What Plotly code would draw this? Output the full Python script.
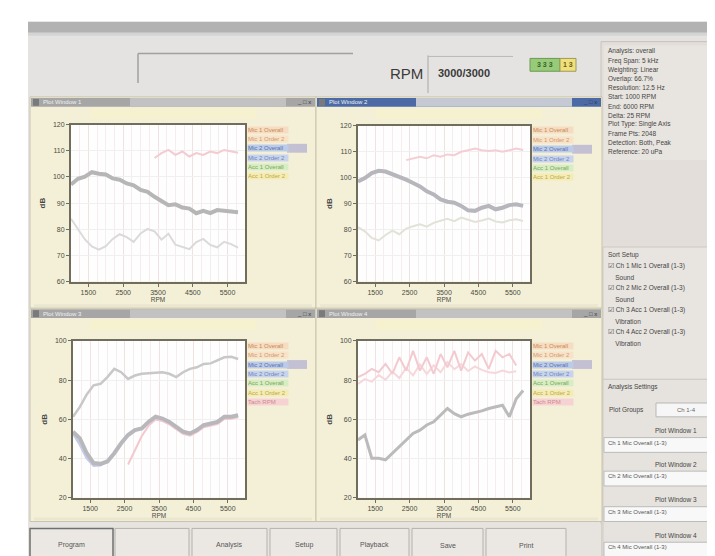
import plotly.graph_objects as go

# ---------------- data ----------------
rpm = [1000, 1200, 1400, 1600, 1800, 2000, 2200, 2400, 2600, 2800, 3000, 3200, 3400,
       3600, 3800, 4000, 4200, 4400, 4600, 4800, 5000, 5200, 5400, 5600, 5800]

p1_main = [97.1, 99.3, 100.1, 101.8, 101.2, 100.9, 99.4, 98.9, 97.5, 96.8, 95.0, 94.3, 92.4,
           91.0, 89.2, 89.5, 88.3, 87.9, 86.1, 87.0, 86.2, 87.3, 87.1, 86.8, 86.5]
p1_pink = [None, None, None, None, None, None, None, None, None, None, None, None, 107.2,
           109.1, 110.3, 108.4, 109.7, 107.8, 109.1, 108.4, 109.7, 109.1, 110.3, 109.7, 109.2]
p1_faint = [84.0, 80.2, 76.1, 73.4, 72.2, 73.5, 76.3, 78.1, 77.0, 75.2, 78.4, 80.1, 79.2,
            76.0, 78.3, 74.1, 73.2, 72.4, 75.1, 76.3, 74.0, 73.1, 75.2, 74.3, 73.0]

p2_main = [98.5, 99.8, 101.7, 102.6, 102.3, 101.3, 100.4, 99.2, 97.9, 96.6, 94.7, 93.5, 91.6,
           90.7, 90.3, 89.1, 87.4, 87.2, 88.4, 89.1, 87.8, 88.4, 89.4, 89.7, 89.1]
p2_pink = [None, None, None, None, None, None, None, 106.7, 107.4, 108.0, 107.4, 108.6, 108.0,
           108.9, 108.6, 109.9, 110.5, 111.2, 110.5, 110.2, 110.5, 109.9, 110.5, 111.2, 110.6]
p2_faint = [80.9, 79.3, 76.8, 75.8, 77.9, 79.6, 78.2, 80.4, 81.3, 82.0, 81.1, 82.6, 83.4,
            84.1, 83.2, 84.6, 83.8, 82.9, 83.5, 84.2, 83.1, 82.7, 83.6, 84.0, 83.3]

p3_upper = [61.3, 66.3, 72.7, 77.3, 78.1, 81.5, 85.7, 84.0, 80.6, 82.3, 83.2, 83.5, 84.0,
            84.0, 83.2, 81.5, 84.0, 85.7, 86.5, 88.2, 88.5, 89.9, 91.6, 91.9, 90.7]
p3_lower = [53.7, 50.3, 42.7, 37.7, 37.3, 38.5, 42.7, 47.8, 52.0, 54.5, 55.4, 58.7, 61.3,
            60.4, 58.7, 56.2, 53.7, 52.8, 54.5, 57.1, 57.9, 58.7, 61.3, 61.3, 62.1]
p3_pink = [None, None, None, None, None, None, None, None, 37.0, 44.2, 51.5, 56.8, 59.9,
           59.1, 57.5, 55.0, 52.6, 51.7, 53.4, 56.0, 56.8, 57.6, 60.2, 60.3, 61.0]
p3_blue = [52.8, 47.1, 40.2, 36.4, 36.6, 38.9, None, None, None, None, None, None, None,
           None, None, None, None, None, None, None, None, None, None, None, None]

p4_main = [49.5, 52.0, 40.2, 40.2, 39.4, 42.7, 46.1, 49.5, 52.8, 54.5, 57.1, 58.7, 62.1,
           65.5, 62.9, 61.3, 62.6, 63.3, 64.3, 65.5, 66.3, 67.2, 61.3, 70.5, 74.7]
p4_pink = [81.5, 83.2, 85.7, 84.0, 88.2, 83.2, 91.6, 84.8, 94.9, 84.8, 91.6, 83.2, 93.3,
           86.5, 94.9, 84.8, 94.1, 89.9, 93.3, 85.7, 94.9, 91.6, 93.3, 87.4, None]
p4_pink2 = [78.0, 80.5, 79.2, 82.6, 80.1, 84.3, 81.0, 86.2, 82.4, 88.0, 83.1, 87.5, 84.0,
            89.2, 85.5, 88.1, 84.6, 86.9, 85.2, 84.0, 83.6, 84.8, 83.9, 84.5, None]

legend_names = ["Mic 1 Overall", "Mic 1 Order 2", "Mic 2 Overall", "Mic 2 Order 2",
                "Acc 1 Overall", "Acc 1 Order 2", "Tach RPM"]
legend_text = ["#c98b5a", "#cf9a70", "#5a72b0", "#6f86bd", "#7aa85a", "#c0a84a", "#d08a90"]
legend_bg = ["#f6dcc0", "#f8e2c8", "#bccbe8", "#c8d4ec", "#d8edc4", "#f4ecb4", "#f6d2d2"]

x_ticks = [1500, 2500, 3500, 4500, 5500]
y_ticks_top = [60, 70, 80, 90, 100, 110, 120]
y_ticks_bot = [20, 40, 60, 80, 100]

info_lines = ["Analysis: overall", "Freq Span: 5 kHz", "Weighting: Linear", "Overlap: 66.7%",
              "Resolution: 12.5 Hz", "Start: 1000 RPM", "End: 6000 RPM", "Delta: 25 RPM",
              "Plot Type: Single Axis", "Frame Pts: 2048", "Detection: Both, Peak",
              "Reference: 20 uPa"]
sort_lines = ["Sort Setup", "\u2611 Ch 1 Mic 1 Overall (1-3)", "    Sound",
              "\u2611 Ch 2 Mic 2 Overall (1-3)", "    Sound", "\u2611 Ch 3 Acc 1 Overall (1-3)",
              "    Vibration", "\u2611 Ch 4 Acc 2 Overall (1-3)", "    Vibration"]
buttons = ["Program", "", "Analysis", "Setup", "Playback", "Save", "Print"]

# ---------------- helpers ----------------
W, H = 715, 556
def px(x): return x / W
def py(y): return 1 - y / H

FONT = "Liberation Sans"
shapes, annotations = [], []

def rect(x0, y0, x1, y1, fill, line=None, lw=1):
    shapes.append(dict(type="rect", xref="paper", yref="paper", layer="below",
                       x0=px(x0), x1=px(x1), y0=py(y1), y1=py(y0), fillcolor=fill,
                       line=dict(color=line or fill, width=lw if line else 0)))

def hline(x0, x1, y, color="#9a9a9a", w=1):
    shapes.append(dict(type="line", xref="paper", yref="paper", layer="below",
                       x0=px(x0), x1=px(x1), y0=py(y), y1=py(y), line=dict(color=color, width=w)))

def vline(x, y0, y1, color="#9a9a9a", w=1):
    shapes.append(dict(type="line", xref="paper", yref="paper", layer="below",
                       x0=px(x), x1=px(x), y0=py(y0), y1=py(y1), line=dict(color=color, width=w)))

def text(x, y, s, size=7, color="#444", anchor="left", bold=False, bg=None, width=None):
    a = dict(xref="paper", yref="paper", x=px(x), y=py(y), text=("<b>%s</b>" % s) if bold else s,
             showarrow=False, xanchor=anchor, yanchor="middle",
             font=dict(family=FONT, size=size, color=color), borderpad=0)
    if bg:
        a["bgcolor"] = bg
    if width:
        a["width"] = width
        a["align"] = "left"
    annotations.append(a)

# ---------------- window chrome ----------------
rect(20, 10, 715, 556, "#e5e3e1")
rect(20, 10, 715, 21, "#b2b2b2")
rect(20, 21, 715, 24, "#d4d4d4")
hline(130, 345, 42, "#a0a0a0", 1.5)
vline(130, 42, 72, "#a0a0a0", 1.5)
vline(420, 44, 82, "#a8a8a8", 1)
hline(420, 505, 45, "#b8b8b8", 1)
text(381, 62, "RPM", size=15, color="#3a3a3a")
text(456, 62, "3000/3000", size=11, color="#3a3a3a", anchor="center", bold=True)
rect(522, 47, 552, 60, "#96cc78", "#6f9658")
rect(552, 47, 568, 60, "#efe07a", "#9f9860")
text(537, 53.5, "3 3 3", size=7, color="#3f5f30", anchor="center", bold=True)
text(560, 53.5, "1 3", size=7, color="#6a5a20", anchor="center", bold=True)

# right info panel
rect(593, 30, 715, 556, "#e3ded9", "#c8c2bc")
rect(596, 34, 715, 150, "#e8e4df")
for i, s in enumerate(info_lines):
    text(599, 40 + i * 9.2, s, size=6.5, color="#454545")
rect(595, 238, 715, 372, "#e8e4df", "#cfc9c2")
for i, s in enumerate(sort_lines):
    text(599, 246 + i * 11.2, s, size=6.5, color="#454545")
rect(595, 372, 715, 556, "#e6e2dd", "#cfc9c2")
text(599, 380, "Analysis Settings", size=6.5, color="#454545")
text(600, 403, "Plot Groups", size=6.5, color="#454545")
rect(648, 396, 715, 410, "#f6f6f6", "#b8b8b8")
text(668, 403, "Ch 1-4", size=6, color="#666")
for k, yy in enumerate([424, 458, 494, 530]):
    text(690, yy, "Plot Window %d" % (k + 1), size=6.5, color="#454545", anchor="right")
    rect(596, yy + 7, 715, yy + 22, "#f8f8f8", "#bcbcbc")
    text(599, yy + 12, "Ch %d Mic Overall (1-3)" % (k + 1), size=6, color="#555")

# bottom button bar
rect(20, 518, 593, 556, "#e7e4e0")
bx = [22, 107, 184, 262, 332, 404, 478]
bw = [83, 74, 75, 67, 69, 71, 80]
for i, b in enumerate(buttons):
    rect(bx[i], 523, bx[i] + bw[i], 555, "#ebe8e4", "#6f6f6f" if i == 0 else "#b5b2ae", 1.5 if i == 0 else 1)
    text(bx[i] + bw[i] / 2, 540, b, size=7, color="#555", anchor="center")

# chart panels
panels = [(22, 86, 308, 300, "#a6a6a6"), (308, 86, 594, 300, "#4b6aa6"),
          (22, 300, 308, 516, "#a6a6a6"), (308, 300, 594, 516, "#a6a6a6")]
plot_boxes = [(63, 114, 237, 273), (350, 115, 522, 273), (65, 333, 237, 492), (350, 333, 522, 492)]
for k, (x0, y0, x1, y1, hc) in enumerate(panels):
    rect(x0, y0, x1, y1, "#f4f0d8", "#c9c4ad")
    rect(x0 + 1, y0 + 1, x1 - 1, y0 + 10, hc)
    rect(x0 + 100, y0 + 1, x1 - 30, y0 + 10, "#c4c9d4" if k == 1 else "#c2c2c2")
    rect(x0 + 3, y0 + 2, x0 + 9, y0 + 9, "#7a7a7a")
    text(x0 + 12, y0 + 5.5, "Plot Window %d" % (k + 1), size=6, color="#f0f0f0")
    text(x1 - 4, y0 + 5.5, "_ \u25a1 x", size=6, color="#333", anchor="right")
    rect(x0 + 60, y0 + 12, x1 - 60, y0 + 22, "#f6f2cf")
    rect(x0 + 4, y1 - 4, x1 - 4, y1 - 1, "#ebe6cf")
for (x0, y0, x1, y1) in plot_boxes:
    rect(x0, y0, x1, y1, "#fefefe")

# legends (colored labels right of each plot)
for k, (x0, y0, x1, y1) in enumerate(plot_boxes):
    n = len(legend_names) if k >= 2 else 6
    for i in range(n):
        yy = y0 + 5 + i * 9.5
        if i == 2:
            rect(x1 + 42, yy - 4.5, x1 + 62, yy + 4.5, "#c4c0d4")
        text(x1 + 2, yy, legend_names[i], size=6, color=legend_text[i], bg=legend_bg[i], width=40)

# ---------------- traces ----------------
fig = go.Figure()
def add(y, ax, color, width, opacity=1.0):
    fig.add_trace(go.Scatter(x=rpm, y=y, xaxis="x" + ax, yaxis="y" + ax, mode="lines",
                             line=dict(color=color, width=width), opacity=opacity,
                             connectgaps=False, hoverinfo="skip"))

add(p1_faint, "", "#dadada", 2)
add(p1_pink, "", "#f3cbd0", 2)
add(p1_main, "", "#b6b6b6", 4)
add(p2_faint, "2", "#e2e2d8", 2)
add(p2_pink, "2", "#f4ced4", 2)
add(p2_main, "2", "#b6b6bc", 4)
add(p3_blue, "3", "#c6cbea", 2.5)
add(p3_pink, "3", "#f3c8ce", 2)
add(p3_upper, "3", "#c8c8c8", 2.5)
add(p3_lower, "3", "#b8b8bc", 4)
add(p4_pink2, "4", "#f6d8dc", 2)
add(p4_pink, "4", "#f3cad0", 2)
add(p4_main, "4", "#bbbbbb", 3)

axis_common = dict(showline=True, mirror=True, linecolor="#716d5c", linewidth=2,
                   ticks="outside", ticklen=3, tickcolor="#716d5c",
                   tickfont=dict(family=FONT, size=7, color="#4a4a40"), zeroline=False)

layout = dict(width=W, height=H, margin=dict(l=0, r=0, t=0, b=0), paper_bgcolor="white",
              plot_bgcolor="rgba(0,0,0,0)", showlegend=False, shapes=shapes,
              annotations=annotations)
for k, (x0, y0, x1, y1) in enumerate(plot_boxes):
    sfx = "" if k == 0 else str(k + 1)
    top = k < 2
    layout["xaxis" + sfx] = dict(axis_common, domain=[px(x0), px(x1)], anchor="y" + sfx,
                                 range=[1000, 6000], tickvals=x_ticks,
                                 showgrid=True, gridcolor="#f1e2e2", gridwidth=1,
                                 minor=dict(dtick=250, tick0=1000, showgrid=True, gridcolor="#f6eeee"),
                                 title=dict(text="RPM", font=dict(family=FONT, size=6.5, color="#4a4a40"),
                                            standoff=2))
    layout["yaxis" + sfx] = dict(axis_common, domain=[py(y1), py(y0)], anchor="x" + sfx,
                                 range=[60, 120] if top else [20, 100],
                                 tickvals=y_ticks_top if top else y_ticks_bot,
                                 showgrid=True, gridcolor="#f0f0f0",
                                 title=dict(text="<b>dB</b>", font=dict(family=FONT, size=8, color="#444"),
                                            standoff=6))
fig.update_layout(**layout)
fig.write_html("out.html")
